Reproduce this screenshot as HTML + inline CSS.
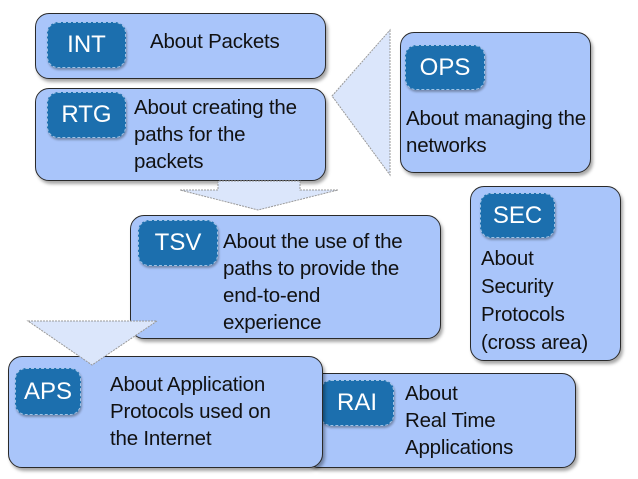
<!DOCTYPE html>
<html><head><style>
body{margin:0;width:638px;height:479px;background:#fff;position:relative;overflow:hidden;font-family:"Liberation Sans",sans-serif;}
.b{position:absolute;background:#a9c5fa;border:1.5px solid #2a2a2a;border-radius:14px;box-shadow:2px 3px 3px rgba(0,0,0,.35);box-sizing:border-box;}
.p{position:absolute;background:#1c6fae;border:1px dashed #9fc3e6;border-radius:11px;color:#fff;font-size:24px;text-align:center;box-sizing:border-box;box-shadow:1px 2px 2px rgba(0,0,0,.3);}
.t{position:absolute;font-size:20.5px;line-height:27px;color:#111;white-space:nowrap;letter-spacing:-0.2px}
svg{position:absolute;left:0;top:0}
</style></head><body>
<div class="b" style="left:35px;top:13px;width:291px;height:66px"></div>
<div class="p" style="left:47px;top:22px;width:79px;height:46px;line-height:44px">INT</div>
<div class="t" style="left:150px;top:28px">About Packets</div>

<div class="b" style="left:35px;top:88px;width:291px;height:93px"></div>
<div class="p" style="left:47px;top:92px;width:79px;height:46px;line-height:44px">RTG</div>
<div class="t" style="left:134px;top:94px">About creating the<br>paths for the<br>packets</div>

<div class="b" style="left:400px;top:32px;width:191px;height:141px"></div>
<div class="p" style="left:405px;top:45px;width:80px;height:45px;line-height:43px">OPS</div>
<div class="t" style="left:406px;top:105px">About managing the<br>networks</div>

<svg width="638" height="479">
<polygon points="390,30 390,175 332,96" fill="#dbe6fb" stroke="#999" stroke-dasharray="2,1"/>
<polygon points="218,181 218,190 180,190 258,210 338,190 300,190 300,181" fill="#dbe6fb" stroke="#999" stroke-dasharray="2,1"/>
</svg>

<div class="b" style="left:130px;top:215px;width:311px;height:124px"></div>
<div class="p" style="left:138px;top:220px;width:80px;height:46px;line-height:44px">TSV</div>
<div class="t" style="left:223px;top:228px">About the use of the<br>paths to provide the<br>end-to-end<br>experience</div>

<div class="b" style="left:470px;top:186px;width:151px;height:175px"></div>
<div class="p" style="left:480px;top:193px;width:75px;height:45px;line-height:43px">SEC</div>
<div class="t" style="left:481px;top:245px;line-height:28px">About<br>Security<br>Protocols<br>(cross area)</div>

<div class="b" style="left:305px;top:373px;width:271px;height:95px"></div>
<div class="p" style="left:320px;top:380px;width:74px;height:46px;line-height:44px">RAI</div>
<div class="t" style="left:405px;top:380px">About<br>Real Time<br>Applications</div>

<div class="b" style="left:8px;top:356px;width:315px;height:112px"></div>
<div class="p" style="left:15px;top:368px;width:66px;height:47px;line-height:45px">APS</div>
<div class="t" style="left:110px;top:371px">About Application<br>Protocols used on<br>the Internet</div>

<svg width="638" height="479">
<polygon points="28,321 157,321 92,365" fill="#dbe6fb" stroke="#999" stroke-dasharray="2,1"/>
</svg>
</body></html>
